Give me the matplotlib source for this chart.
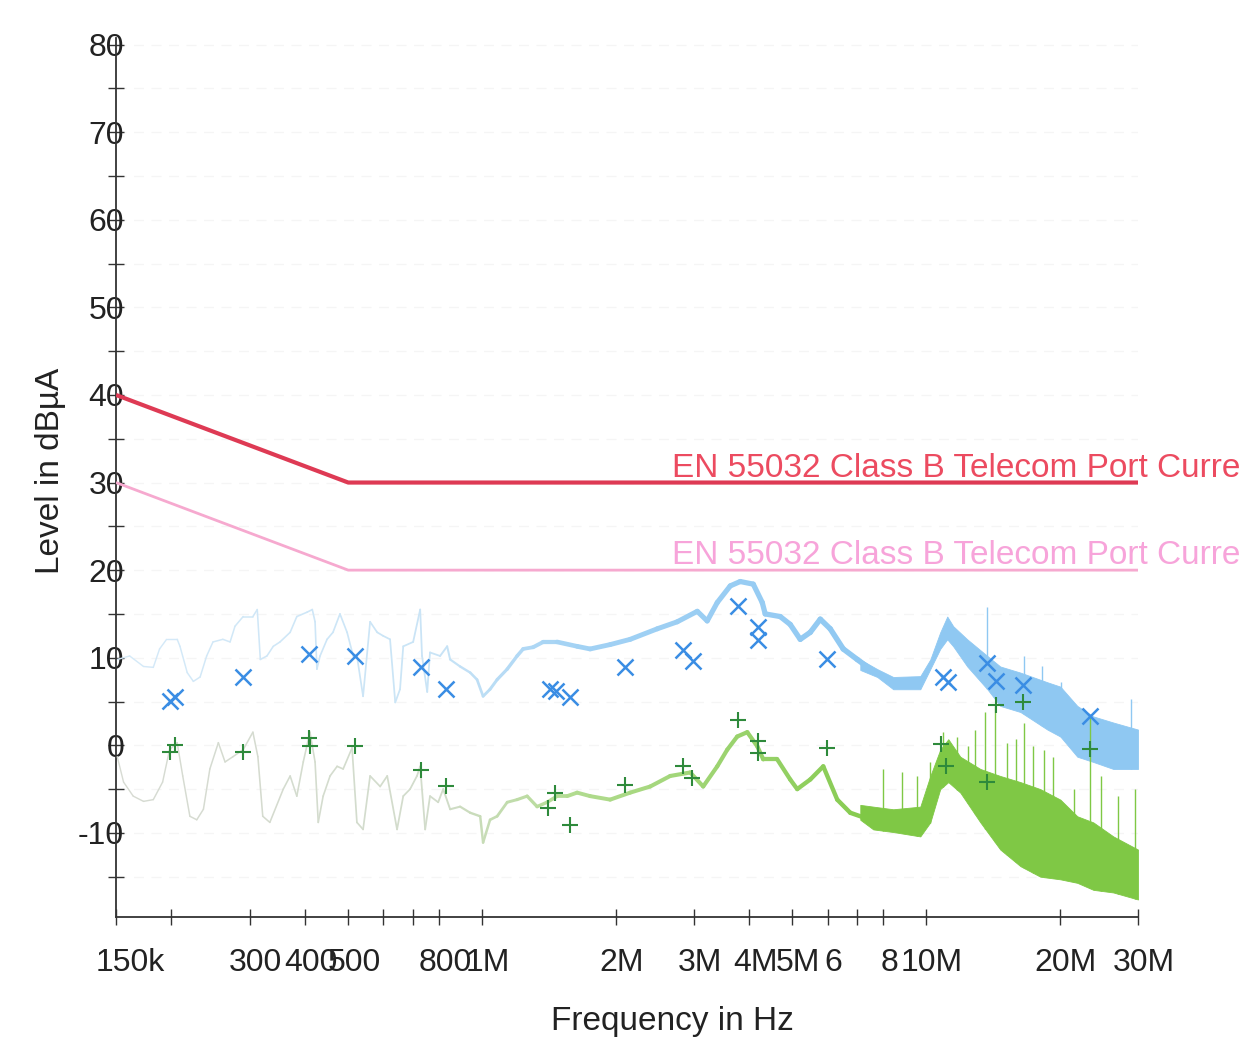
import numpy as np
import matplotlib
matplotlib.use("Agg")
import matplotlib.pyplot as plt
import matplotlib.transforms as mtransforms
from matplotlib.collections import LineCollection
from matplotlib.colors import to_rgb
from matplotlib.patches import Rectangle

plt.rcParams['font.family'] = ['Liberation Sans', 'DejaVu Sans']

# ---------------- data (frequency in MHz, level in dBuA) ----------------
limit_freq = [0.15, 0.5, 30.0]
limit_qp = [40.0, 30.0, 30.0]
limit_av = [30.0, 20.0, 20.0]
limit_qp_label = "EN 55032 Class B Telecom Port Current QP"
limit_av_label = "EN 55032 Class B Telecom Port Current AV"

# peak scan, narrow trace part
pk_f = [0.151, 0.161, 0.173, 0.182, 0.188, 0.195, 0.206, 0.209, 0.217, 0.224,
        0.232, 0.240, 0.248, 0.261, 0.271, 0.278, 0.290, 0.305, 0.312, 0.317,
        0.328, 0.339, 0.351, 0.370, 0.383, 0.404, 0.415, 0.421, 0.425, 0.432,
        0.448, 0.462, 0.479, 0.497, 0.513, 0.523, 0.540, 0.560, 0.581, 0.599,
        0.621, 0.638, 0.654, 0.665, 0.700, 0.726, 0.733, 0.753, 0.764, 0.805,
        0.835, 0.848, 0.893, 0.941, 0.975, 1.006, 1.043, 1.082, 1.140, 1.200,
        1.238, 1.304, 1.374, 1.477, 1.638, 1.752, 1.944, 2.157, 2.481, 2.752,
        3.054, 3.215, 3.387, 3.623, 3.815, 4.082, 4.277, 4.343, 4.694, 4.944,
        5.208, 5.486, 5.778, 6.084, 6.509, 7.000, 7.488]
pk_L = [9.8, 10.2, 9.0, 8.9, 11.0, 12.1, 12.1, 11.3, 8.3, 7.3,
        7.8, 10.2, 11.8, 12.1, 11.8, 13.6, 14.7, 14.7, 15.5, 9.8,
        10.2, 11.3, 11.8, 12.9, 14.7, 15.2, 15.5, 14.1, 8.7, 10.2,
        12.1, 12.9, 15.0, 12.9, 10.2, 10.2, 5.6, 14.1, 12.9, 12.5,
        12.1, 4.9, 6.4, 11.3, 11.8, 15.5, 10.2, 6.1, 10.6, 10.2,
        11.3, 9.8, 9.0, 8.3, 7.5, 5.6, 6.4, 7.5, 8.7, 10.2,
        11.0, 11.2, 11.8, 11.8, 11.3, 11.0, 11.5, 12.1, 13.3, 14.1,
        15.3, 14.2, 16.3, 18.2, 18.7, 18.4, 16.3, 15.0, 14.7, 13.8,
        12.1, 12.9, 14.4, 13.3, 11.0, 9.8, 8.7]

# peak scan, dense part (envelope)
pk_band_f = [7.11, 7.764, 8.435, 9.704, 10.22, 10.76, 11.16, 11.51, 12.38,
             13.74, 14.69, 16.31, 18.75, 20.06, 21.90, 23.80, 26.40, 30.0]
pk_band_hi = [9.8, 8.7, 7.8, 7.9, 9.8, 12.9, 14.7, 13.6, 12.1,
              10.2, 9.0, 8.3, 7.2, 6.7, 4.5, 3.3, 2.6, 1.8]
pk_band_lo = [8.6, 7.8, 6.4, 6.4, 8.7, 11.0, 12.1, 11.3, 9.0,
              6.4, 4.5, 3.8, 1.8, 1.0, -1.3, -1.9, -2.7, -2.7]
pk_spike_f = [13.7, 16.6, 18.2, 20.1, 29.0]
pk_spike_top = [15.8, 10.2, 9.0, 7.2, 5.3]

# average scan, narrow trace part
av_f = [0.151, 0.156, 0.164, 0.173, 0.182, 0.191, 0.198, 0.206, 0.212, 0.220,
        0.228, 0.236, 0.244, 0.255, 0.264, 0.275, 0.290, 0.305, 0.313, 0.321,
        0.333, 0.357, 0.370, 0.383, 0.396, 0.410, 0.421, 0.428, 0.439, 0.455,
        0.472, 0.487, 0.510, 0.523, 0.540,
        0.560, 0.590, 0.612, 0.644, 0.665, 0.689, 0.714, 0.726, 0.745, 0.764,
        0.797, 0.818, 0.848, 0.893, 0.941, 0.991, 1.006, 1.043, 1.082, 1.140,
        1.200, 1.264, 1.331, 1.402, 1.477, 1.556, 1.638, 1.752, 1.944, 2.157,
        2.393, 2.654, 2.944, 3.149, 3.387, 3.567, 3.756, 3.957, 4.167, 4.299,
        4.622, 4.944, 5.127, 5.486, 5.868, 6.309, 6.750, 7.488]
av_L = [-1.3, -4.2, -5.8, -6.4, -6.2, -4.2, -0.5, 0.3, -3.5, -8.1,
        -8.5, -7.3, -2.7, 0.3, -1.9, -1.3, -0.5, 1.5, -1.3, -8.1,
        -8.8, -5.0, -3.5, -5.8, -1.9, 1.5, -1.9, -8.8, -5.8, -3.5,
        -2.4, -2.7, -0.3, -8.8, -9.6,
        -3.5, -4.7, -3.5, -9.6, -5.8, -5.0, -3.5, -2.4, -9.6, -5.8,
        -6.5, -5.0, -7.3, -7.0, -7.7, -8.1, -11.1, -8.5, -8.1, -6.5,
        -6.2, -5.8, -7.0, -6.5, -5.8, -5.8, -5.4, -5.8, -6.2, -5.4,
        -4.7, -3.5, -3.1, -4.7, -2.4, -0.5, 1.0, 1.5, -0.1, -1.6,
        -1.6, -3.9, -5.0, -3.9, -2.4, -6.2, -7.7, -8.5]

# average scan, dense part (envelope)
av_band_f = [7.11, 7.605, 8.435, 9.704, 10.22, 10.76, 11.22, 11.94, 13.25,
             14.69, 16.31, 18.08, 20.06, 21.90, 23.80, 26.40, 30.0]
av_band_hi = [-6.8, -7.0, -7.3, -7.0, -3.5, -0.5, 0.7, -1.3, -2.7,
              -3.5, -4.2, -5.0, -6.2, -8.1, -8.8, -10.4, -11.9]
av_band_lo = [-8.5, -9.6, -9.9, -10.4, -8.8, -5.0, -4.2, -5.4, -8.8,
              -11.9, -13.8, -15.0, -15.3, -15.7, -16.5, -16.8, -17.6]
av_spike_f = [8.0, 8.84, 9.55, 10.2, 10.9, 11.75, 12.4, 12.9, 13.6, 14.3,
              15.2, 15.9, 16.6, 17.4, 18.4, 19.3, 21.5, 23.4, 24.7, 27.0, 29.6]
av_spike_top = [-2.7, -3.1, -3.5, -1.9, 1.5, 1.0, -0.1, 1.8, 3.8, 4.5,
                0.3, 0.7, 2.6, -0.1, -0.5, -1.3, -5.0, 3.3, -3.5, -5.8, -5.0]

# final measurements
qp_f = [0.198, 0.204, 0.290, 0.408, 0.518, 0.729, 0.830, 1.42, 1.47, 1.58,
        2.10, 2.84, 2.99, 3.78, 4.19, 4.19, 5.99, 10.9, 11.2, 13.7, 14.4,
        16.5, 23.4]
qp_L = [5.1, 5.5, 7.8, 10.4, 10.2, 8.9, 6.4, 6.4, 6.2, 5.5,
        8.9, 10.9, 9.6, 15.9, 13.5, 12.0, 9.8, 7.8, 7.2, 9.4, 7.3,
        6.9, 3.4]
avm_f = [0.198, 0.204, 0.290, 0.408, 0.410, 0.518, 0.729, 0.830, 1.41, 1.46,
         1.58, 2.10, 2.83, 2.97, 3.78, 4.18, 4.18, 5.99, 10.8, 11.1, 13.7,
         14.4, 16.5, 23.4]
avm_L = [-0.8, 0.0, -0.8, 0.8, -0.1, -0.1, -2.8, -4.7, -7.1, -5.5,
         -9.1, -4.5, -2.4, -3.7, 2.9, 0.5, -0.9, -0.3, 0.1, -2.4, -4.2,
         4.6, 5.0, -0.4]

x_ticks = [0.15, 0.2, 0.3, 0.4, 0.5, 0.6, 0.7, 0.8, 1, 2, 3, 4, 5, 6, 7, 8, 10, 20, 30]
x_ticklabels = ['150k', '', '300', '400', '500', '', '', '800', '1M', '2M',
                '3M', '4M', '5M', '6', '', '8', '10M', '20M', '30M']
y_ticks = list(range(-10, 81, 10))
y_minor = [v + 5 for v in range(-20, 80, 10)]

# ---------------- drawing ----------------
W, H = 1255, 1037
fig = plt.figure(figsize=(W / 100, H / 100), dpi=100)
ax = fig.add_axes([116 / W, 1 - 917 / H, 1022 / W, 879 / H])
ax.set_xscale('log')
ax.set_xlim(0.15, 30)
ax.set_ylim(-19.6, 80.75)

for v in y_ticks + y_minor:
    ax.axhline(v, color='#f5f5f5', lw=0.9, ls=(0, (8, 6)), zorder=0)


def graded_line(f, L, stop_f, stop_c, stop_w, z):
    f = np.asarray(f)
    L = np.asarray(L)
    pts = np.column_stack([f, L])
    segs = np.stack([pts[:-1], pts[1:]], axis=1)
    mid = np.log10(np.sqrt(f[:-1] * f[1:]))
    sf = np.log10(stop_f)
    rgb = np.array([to_rgb(c) for c in stop_c])
    cols = np.column_stack([np.interp(mid, sf, rgb[:, k]) for k in range(3)])
    widths = np.interp(mid, sf, stop_w)
    lc = LineCollection(segs, colors=cols, linewidths=widths, zorder=z,
                        capstyle='round', joinstyle='round')
    ax.add_collection(lc)


blue_band = '#8fc8f2'
green_band = '#7fc845'

# peak trace
graded_line(pk_f, pk_L, [0.15, 0.8, 1.6, 7.5],
            ['#d6eaf8', '#c9e4f6', '#a3d2f4', '#8fc8f2'], [1.0, 1.3, 3.4, 4.0], 2)
ax.fill_between(pk_band_f, pk_band_lo, pk_band_hi, color=blue_band, lw=0.6,
                edgecolor=blue_band, zorder=2)
ax.vlines(pk_spike_f, np.interp(pk_spike_f, pk_band_f, pk_band_lo), pk_spike_top,
          color=blue_band, lw=1.0, zorder=2)

# average trace
graded_line(av_f, av_L, [0.15, 0.8, 1.6, 7.5],
            ['#d7dbd3', '#d2dccb', '#b2dc90', '#86cb50'], [1.0, 1.3, 2.8, 3.2], 3)
ax.fill_between(av_band_f, av_band_lo, av_band_hi, color=green_band, lw=0.6,
                edgecolor=green_band, zorder=3)
ax.vlines(av_spike_f, np.interp(av_spike_f, av_band_f, av_band_lo), av_spike_top,
          color=green_band, lw=1.0, zorder=3)

# limit lines
ax.plot(limit_freq, limit_qp, color='#de3a54', lw=3.0, zorder=4, solid_capstyle='butt')
ax.plot(limit_freq, limit_av, color='#f6a9cf', lw=2.0, zorder=4, solid_capstyle='butt')
txt_clip = mtransforms.Bbox.from_extents(0, 0, 1240, H)
t1 = ax.text(2.68, 30.6, limit_qp_label, color='#ec4b60', fontsize=24,
             va='baseline', ha='left', zorder=5)
t2 = ax.text(2.68, 20.7, limit_av_label, color='#f7a4da', fontsize=24,
             va='baseline', ha='left', zorder=5)
for t in (t1, t2):
    t.set_clip_box(txt_clip)
    t.set_clip_on(True)

# final measurement markers
ax.plot(qp_f, qp_L, ls='none', marker='x', ms=11, mew=1.8, color='#3a8de4', zorder=6)
ax.plot(avm_f, avm_L, ls='none', marker='+', ms=12, mew=1.5, color='#2e8a3b', zorder=6)

# axes styling
for side in ('top', 'right'):
    ax.spines[side].set_visible(False)
for side in ('left', 'bottom'):
    ax.spines[side].set_color('#333333')
    ax.spines[side].set_linewidth(1.3)

ax.set_xticks(x_ticks)
ax.set_xticklabels(x_ticklabels)
ax.xaxis.set_minor_locator(matplotlib.ticker.NullLocator())
ax.set_yticks(y_ticks)
ax.set_yticklabels([str(v) for v in y_ticks])
ax.set_yticks(y_minor, minor=True)

ax.tick_params(axis='x', which='major', direction='inout', length=12, width=1.0,
               color='#333333', labelcolor='#222222', labelsize=23, pad=16)
ax.tick_params(axis='y', which='both', direction='inout', length=11, width=1.0,
               color='#333333', labelcolor='#222222', labelsize=23, pad=-11.3)

shift = mtransforms.ScaledTranslation(6 / 100, 0, fig.dpi_scale_trans)
for i, lbl in enumerate(ax.get_xticklabels()):
    extra = mtransforms.ScaledTranslation(8 / 100, 0, fig.dpi_scale_trans) if i == 0 else mtransforms.Affine2D()
    lbl.set_transform(lbl.get_transform() + shift + extra)

fig.text(50 / W, 1 - 471 / H, 'Level in dBµA', rotation=90, fontsize=24,
         color='#222222', ha='center', va='center')
fig.text(672 / W, 1 - 1030 / H, 'Frequency in Hz', fontsize=24,
         color='#222222', ha='center', va='baseline')

# blank right margin strip under the axis, where the frame ends
fig.add_artist(Rectangle((1181 / W, 0), (W - 1181) / W, 1 - 930 / H,
                         transform=fig.transFigure, facecolor='white',
                         edgecolor='none', zorder=10))

fig.savefig('out.png', dpi=100, facecolor='white')
